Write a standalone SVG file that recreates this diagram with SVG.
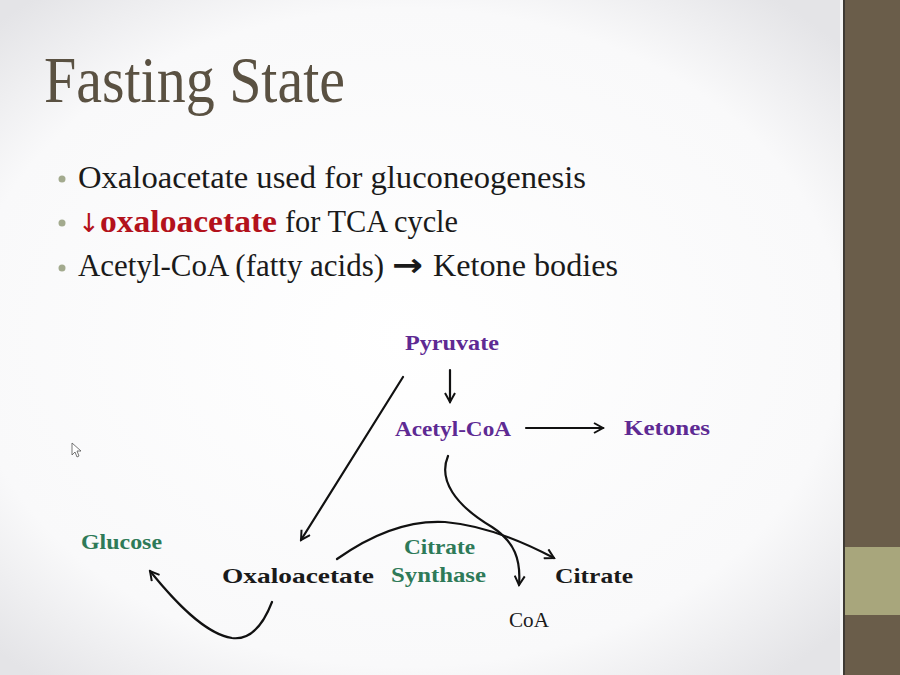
<svg xmlns="http://www.w3.org/2000/svg" width="900" height="675" viewBox="0 0 900 675">
<defs>
<radialGradient id="bg" cx="0.45" cy="0.5" r="0.65">
<stop offset="0" stop-color="#ffffff"/>
<stop offset="0.75" stop-color="#f9f9fa"/>
<stop offset="1" stop-color="#e4e4e7"/>
</radialGradient>
<marker id="v" viewBox="0 0 12 12" refX="10" refY="6" markerWidth="12" markerHeight="12" markerUnits="userSpaceOnUse" orient="auto">
<path d="M1,1 L10,6 L1,11" fill="none" stroke="#111" stroke-width="2" stroke-linejoin="miter"/>
</marker>
<style>
.serif{font-family:"Liberation Serif","DejaVu Serif",serif}
.sym{font-family:"DejaVu Sans","Liberation Sans",sans-serif}
.body{font-size:32px;fill:#1a1a1a}
.red{fill:#b3121c}
.bullet{fill:#a3aa8e}
.lab{font-size:21px;font-weight:bold}
.purple{fill:#5e2a93}
.green{fill:#2e7a58}
.black{fill:#1a1a1a}
.conn{fill:none;stroke:#111;stroke-width:2.2;stroke-linecap:round}
</style>
</defs>
<rect x="0" y="0" width="900" height="675" fill="url(#bg)"/>
<g id="sidebar">
<rect x="843" y="0" width="57" height="675" fill="#6a5d4a"/>
<rect x="843" y="0" width="2" height="675" fill="#3e3a33"/>
<rect x="845" y="547" width="55" height="68" fill="#a8a67c"/>
<rect x="840" y="0" width="3" height="675" fill="#f4f4f4"/>
</g>
<g id="title">
<text class="serif" x="44" y="102" font-size="66" fill="#5a5142" textLength="301" lengthAdjust="spacingAndGlyphs">Fasting State</text>
</g>
<g id="bullets">
<circle class="bullet" cx="62" cy="179" r="3.5"/>
<circle class="bullet" cx="62" cy="223" r="3.5"/>
<circle class="bullet" cx="62" cy="268" r="3.5"/>
<text class="serif body" x="78" y="188" textLength="508" lengthAdjust="spacingAndGlyphs">Oxaloacetate used for gluconeogenesis</text>
<text class="serif body red" x="78" y="232"><tspan class="sym" font-size="26">↓</tspan><tspan x="100" font-weight="bold" textLength="177" lengthAdjust="spacingAndGlyphs">oxaloacetate</tspan></text>
<text class="serif body" x="285" y="232" textLength="173" lengthAdjust="spacingAndGlyphs">for TCA cycle</text>
<text class="serif body" x="78" y="276" textLength="306" lengthAdjust="spacingAndGlyphs">Acetyl-CoA (fatty acids)</text>
<text class="sym body" x="392" y="276" font-size="26" font-weight="bold" textLength="31" lengthAdjust="spacingAndGlyphs">→</text>
<text class="serif body" x="433" y="276" textLength="185" lengthAdjust="spacingAndGlyphs">Ketone bodies</text>
</g>
<g id="cursor">
<path d="M72,443 L72,455 L75,452 L77,457 L79,456 L77,451 L81,451 Z" fill="#fff" stroke="#555" stroke-width="0.8"/>
</g>
<g id="connectors">
<line class="conn" x1="450" y1="370" x2="450" y2="402" marker-end="url(#v)"/>
<line class="conn" x1="526" y1="428" x2="603" y2="428" marker-end="url(#v)"/>
<line class="conn" x1="403" y1="377" x2="301" y2="540" marker-end="url(#v)"/>
<path class="conn" d="M448,456 C438,480 455,505 492,527 C515,542 521,560 519,585" marker-end="url(#v)"/>
<path class="conn" d="M337,559 C375,532 410,520 445,522 C480,525 520,540 554,558" marker-end="url(#v)"/>
<path class="conn" d="M272,602 C262,628 248,640 232,638 C205,634 175,602 150,571" marker-end="url(#v)"/>
</g>
<g id="pyruvate"><text class="serif lab purple" x="405" y="350" textLength="94" lengthAdjust="spacingAndGlyphs">Pyruvate</text></g>
<g id="acetylcoa"><text class="serif lab purple" x="395" y="436" textLength="116" lengthAdjust="spacingAndGlyphs">Acetyl-CoA</text></g>
<g id="ketones"><text class="serif lab purple" x="624" y="435" textLength="86" lengthAdjust="spacingAndGlyphs">Ketones</text></g>
<g id="glucose"><text class="serif lab green" x="81" y="549" font-size="22" textLength="81" lengthAdjust="spacingAndGlyphs">Glucose</text></g>
<g id="oxaloacetate"><text class="serif lab black" x="222" y="583" font-size="25" textLength="152" lengthAdjust="spacingAndGlyphs">Oxaloacetate</text></g>
<g id="citratesynthase">
<text class="serif lab green" x="404" y="554" font-size="22" textLength="71" lengthAdjust="spacingAndGlyphs">Citrate</text>
<text class="serif lab green" x="391" y="582" font-size="22" textLength="95" lengthAdjust="spacingAndGlyphs">Synthase</text>
</g>
<g id="citrate"><text class="serif lab black" x="555" y="583" font-size="25" textLength="78" lengthAdjust="spacingAndGlyphs">Citrate</text></g>
<g id="coa"><text class="serif black" x="509" y="627" font-size="21" textLength="40" lengthAdjust="spacingAndGlyphs">CoA</text></g>
</svg>
